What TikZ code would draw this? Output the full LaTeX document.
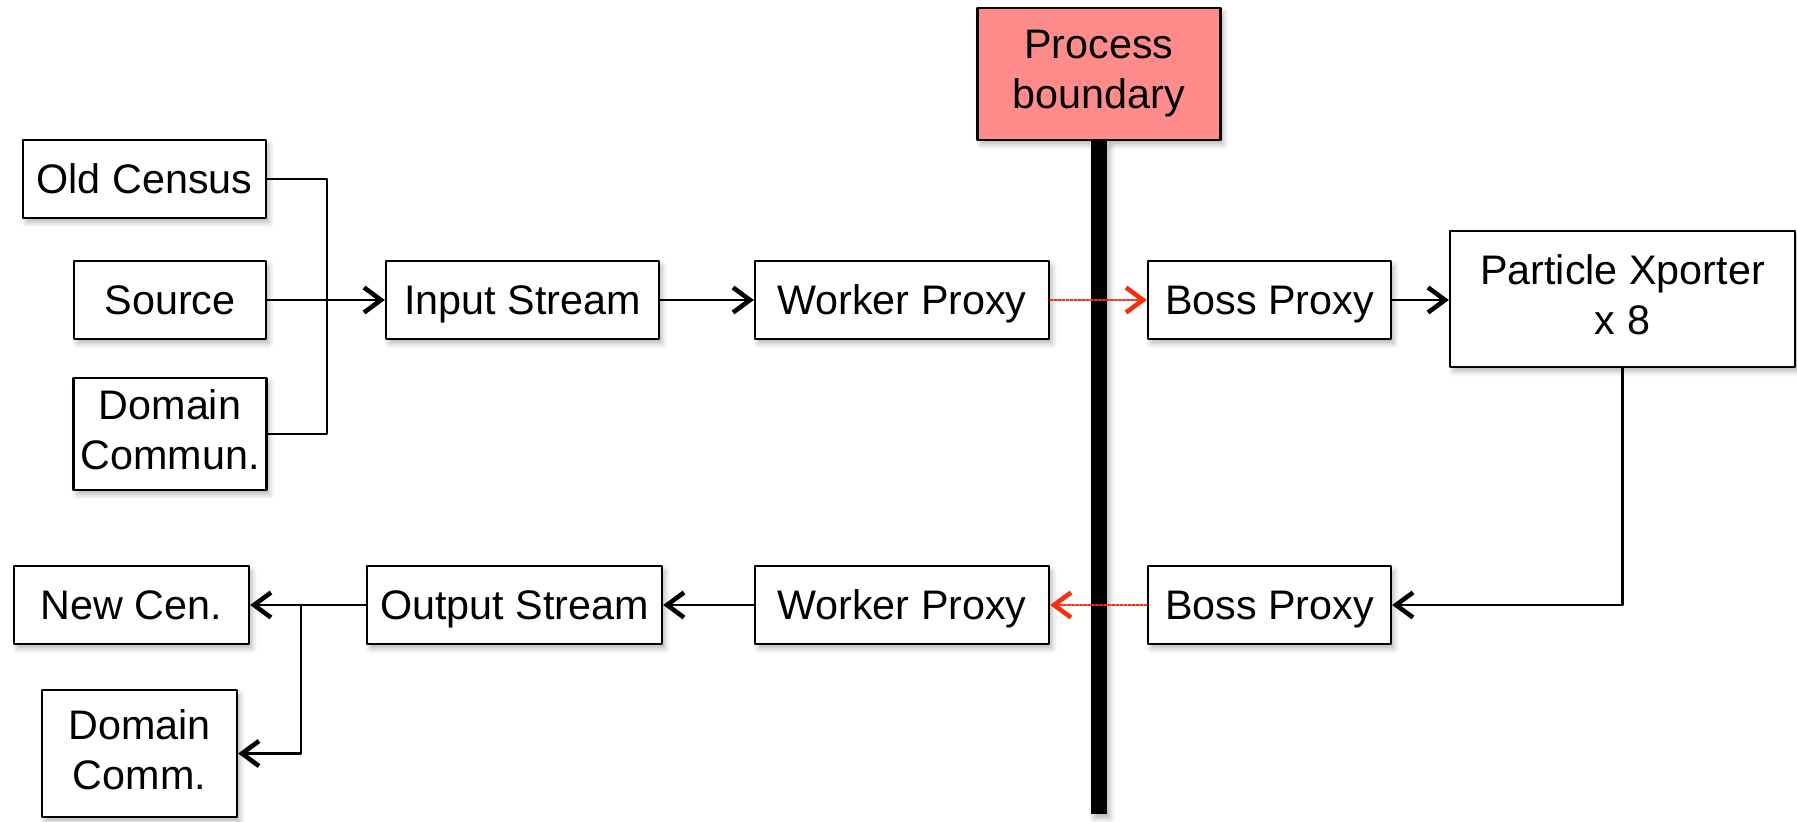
\documentclass[tikz,border=0pt]{standalone}
\usepackage{fontspec}
\setsansfont{Liberation Sans}
\usepackage{tikz}
\usetikzlibrary{arrows.meta,shadows,shadows.blur,calc,positioning}

\definecolor{boundfill}{RGB}{255,140,138}
\definecolor{ipcred}{RGB}{250,45,15}

% full ascender/descender strut, so lines sit like in the slides
\newcommand\linestrut{\rule[-0.212em]{0pt}{1.117em}}

\begin{document}
\begin{tikzpicture}[
  font=\sffamily\fontsize{23.5}{28.5}\selectfont,
  line cap=round,
  line join=round,
  >={Straight Barb[length=3.4mm,width=5mm,line width=2.6pt]},
  softshadow/.style={
    blur shadow={
      shadow xshift=1.8pt,
      shadow yshift=-2.6pt,
      shadow blur radius=3pt,
      shadow opacity=28
    }
  },
  box/.style={
    rectangle,
    minimum height=1.56cm,
    align=center,
    inner sep=4pt,
    line width=1.3pt,
    draw=black,
    fill=white,
    softshadow,
    execute at begin node=\linestrut,
    execute at end node=\linestrut
  },
  arr/.style={
    ->,
    line width=1.3pt,
    draw=black
  },
  link/.style={
    line width=1.3pt,
    draw=black
  },
  ipc/.style={
    ->,
    line width=1.3pt,
    draw=ipcred,
    densely dotted
  }
]

\useasboundingbox (0,0) rectangle (35.94,-16.42);

% process boundary and its wall
\node[box, fill=boundfill, minimum width=4.86cm, minimum height=2.64cm]
  (bound) at (21.98,-1.48) {Process\\boundary};
\coordinate (wallend) at (21.98,-16.28);
\fill[black, softshadow]
  ($(bound.south)+(-0.16,0)$) rectangle ($(wallend)+(0.16,0)$);

% inputs
\node[box, minimum width=4.86cm] (oldcen) at (2.89,-3.58) {Old Census};
\node[box, minimum width=3.84cm] (source) at (3.40,-6.00) {Source};
\node[box, minimum width=3.84cm, minimum height=2.24cm]
  (domin) at (3.40,-8.68) {Domain\\Commun.};

\node[box, minimum width=5.46cm] (instream) at (10.45,-6.00) {Input Stream};
\node[box, minimum width=5.88cm] (wpin) at (18.04,-6.00) {Worker Proxy};
\node[box, minimum width=4.86cm] (bpin) at (25.39,-6.00) {Boss Proxy};
\node[box, minimum width=6.90cm, minimum height=2.72cm]
  (xport) at (32.45,-5.98) {Particle Xporter\\x 8};

% outputs
\node[box, minimum width=4.86cm] (bpout) at (25.39,-12.10) {Boss Proxy};
\node[box, minimum width=5.88cm] (wpout) at (18.04,-12.10) {Worker Proxy};
\node[box, minimum width=5.90cm] (outstream) at (10.29,-12.10) {Output Stream};
\node[box, minimum width=4.70cm] (newcen) at (2.63,-12.10) {New Cen.};
\node[box, minimum width=3.90cm, minimum height=2.54cm]
  (domout) at (2.79,-15.07) {Domain\\Comm.};

% merge of the inputs
\coordinate (joinin) at (6.54,-6.00);
\draw[link] (oldcen.east) -| (joinin);
\draw[link] (domin.east) -| (joinin);
\draw[link] (source.east) -- (joinin);
\draw[arr] (joinin) -- (instream.west);

\draw[arr] (instream.east) -- (wpin.west);
\draw[ipc] (wpin.east) -- (bpin.west);
\draw[arr] (bpin.east) -- (xport.west |- bpin.east);
\draw[arr] (xport.south) |- (bpout.east);
\draw[ipc] (bpout.west) -- (wpout.east);
\draw[arr] (wpout.west) -- (outstream.east);

% split of the outputs
\coordinate (joinout) at (6.02,-12.10);
\draw[link] (outstream.west) -- (joinout);
\draw[arr] (joinout) -- (newcen.east);
\draw[arr] (joinout) |- (domout.east);

\end{tikzpicture}
\end{document}
